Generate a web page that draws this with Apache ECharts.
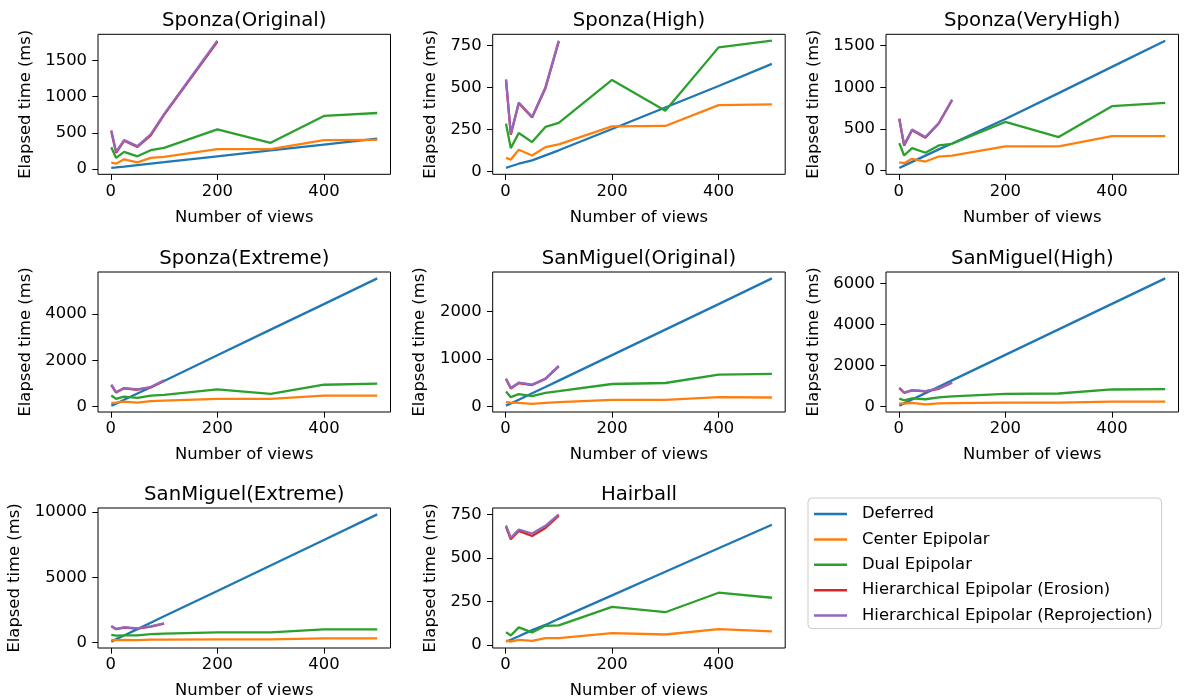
<!DOCTYPE html>
<html>
<head>
<meta charset="utf-8">
<script src="https://cdn.jsdelivr.net/npm/echarts@6/dist/echarts.min.js"></script>
<style>
  html, body { margin: 0; padding: 0; background: #fff; }
  #chart { width: 1190px; height: 700px; }
</style>
</head>
<body>
<div id="chart"></div>
<script>
// Number of views rendered per frame (shared x values of every panel)
const views = [1, 10, 25, 50, 75, 100, 200, 300, 400, 500];

const seriesNames = [
  'Deferred',
  'Center Epipolar',
  'Dual Epipolar',
  'Hierarchical Epipolar (Erosion)',
  'Hierarchical Epipolar (Reprojection)'
];

const panelTitles = [
  'Sponza(Original)', 'Sponza(High)', 'Sponza(VeryHigh)',
  'Sponza(Extreme)', 'SanMiguel(Original)', 'SanMiguel(High)',
  'SanMiguel(Extreme)', 'Hairball'
];

// Elapsed time (ms) per scene: [deferred, center, dual, erosion, reprojection]
const sponzaOriginal = [
  [15, 22, 34, 55, 75, 95, 176, 257, 338, 419],
  [88, 74, 135, 93, 153, 167, 274, 274, 399, 404],
  [300, 153, 237, 176, 260, 292, 548, 362, 734, 775],
  [520, 225, 390, 305, 465, 750, 1760],
  [535, 237, 399, 316, 478, 760, 1775]
];
const sponzaHigh = [
  [20, 30, 45, 65, 95, 125, 252, 380, 508, 640],
  [80, 70, 128, 94, 144, 160, 268, 270, 394, 398],
  [284, 138, 228, 174, 264, 288, 544, 360, 738, 778],
  [545, 218, 405, 320, 495, 772],
  [548, 224, 410, 324, 500, 778]
];
const sponzaVeryHigh = [
  [32, 60, 105, 180, 255, 325, 620, 930, 1245, 1560],
  [100, 89, 141, 109, 169, 181, 290, 290, 415, 415],
  [330, 181, 270, 214, 302, 322, 584, 403, 774, 814],
  [620, 300, 485, 395, 565, 845],
  [625, 310, 492, 403, 572, 854]
];
const sponzaExtreme = [
  [45, 130, 300, 570, 840, 1110, 2215, 3320, 4420, 5530],
  [160, 170, 218, 175, 240, 260, 335, 335, 480, 480],
  [480, 335, 436, 378, 480, 509, 742, 553, 946, 990],
  [930, 610, 790, 730, 830, 1120],
  [946, 626, 800, 742, 844, 1135]
];
const sanMiguelOriginal = [
  [20, 65, 145, 280, 410, 545, 1080, 1615, 2150, 2690],
  [92, 85, 78, 57, 80, 95, 141, 141, 198, 191],
  [318, 198, 262, 219, 290, 325, 474, 495, 672, 686],
  [580, 380, 495, 452, 580, 845],
  [587, 389, 502, 460, 587, 855]
];
const sanMiguelHigh = [
  [50, 160, 350, 660, 970, 1280, 2520, 3760, 5000, 6240],
  [164, 150, 180, 115, 160, 175, 197, 197, 246, 246],
  [393, 311, 400, 360, 450, 500, 623, 640, 836, 852],
  [905, 675, 790, 740, 870, 1165],
  [918, 688, 803, 754, 885, 1180]
];
const sanMiguelExtreme = [
  [80, 270, 550, 1040, 1530, 2020, 3960, 5910, 7860, 9820],
  [205, 190, 220, 200, 230, 240, 256, 256, 333, 333],
  [590, 538, 560, 564, 650, 700, 795, 795, 1025, 1025],
  [1260, 1030, 1160, 1080, 1235, 1465],
  [1282, 1050, 1180, 1100, 1256, 1487]
];
const hairball = [
  [20, 30, 50, 85, 115, 150, 285, 420, 555, 690],
  [25, 19, 29, 23, 39, 39, 68, 60, 91, 78],
  [74, 54, 101, 72, 110, 112, 219, 188, 300, 271],
  [678, 607, 655, 626, 672, 742],
  [686, 616, 663, 640, 684, 750]
];

// Tick labels
const xTicks = [0, 200, 400];
const yTicks = [
  [0, 500, 1000, 1500],
  [0, 250, 500, 750],
  [0, 500, 1000, 1500],
  [0, 2000, 4000],
  [0, 1000, 2000],
  [0, 2000, 4000, 6000],
  [0, 5000, 10000],
  [0, 250, 500, 750]
];

const panels = [sponzaOriginal, sponzaHigh, sponzaVeryHigh, sponzaExtreme,
  sanMiguelOriginal, sanMiguelHigh, sanMiguelExtreme, hairball];

const COLORS = ['#1f77b4', '#ff7f0e', '#2ca02c', '#d62728', '#9467bd'];
const FONT = 'DejaVu Sans';
const FS = 16.4;       // tick / axis label size
const TITLE_FS = 19.7; // subplot title size
const COL_LEFT = [98, 492.7, 886];
const ROW_TOP = [34.3, 272, 508];
const BOX_W = 292.5;
const BOX_H = 140;

// matplotlib-like 5% margins on both axes
const xLo = Math.min(...views), xHi = Math.max(...views);
const xPad = (xHi - xLo) * 0.05;

const grids = [], xAxes = [], yAxes = [], titles = [], series = [];

panels.forEach((panel, i) => {
  const col = i % 3, row = Math.floor(i / 3);
  const left = COL_LEFT[col], top = ROW_TOP[row];

  grids.push({
    left: left, top: top, width: BOX_W, height: BOX_H,
    show: true, borderColor: '#000', borderWidth: 1,
    backgroundColor: 'transparent'
  });

  let lo = Infinity, hi = -Infinity;
  panel.forEach(s => s.forEach(v => { lo = Math.min(lo, v); hi = Math.max(hi, v); }));
  const yPad = (hi - lo) * 0.05;

  const widest = Math.max(...yTicks[i].map(v => String(v).length));
  const labelW = widest * 0.636 * FS;

  xAxes.push({
    type: 'value', gridIndex: i, position: 'bottom',
    min: xLo - xPad, max: xHi + xPad,
    splitLine: { show: false },
    axisLine: { show: false, onZero: false },
    axisTick: { show: true, inside: false, length: 5.7, customValues: xTicks,
      lineStyle: { color: '#000', width: 1 } },
    axisLabel: { customValues: xTicks, margin: 9, color: '#000',
      fontFamily: FONT, fontSize: FS, formatter: v => String(v) },
    name: 'Number of views', nameLocation: 'middle', nameGap: 35,
    nameTextStyle: { color: '#000', fontFamily: FONT, fontSize: FS }
  });

  yAxes.push({
    type: 'value', gridIndex: i, position: 'left',
    min: lo - yPad, max: hi + yPad,
    splitLine: { show: false },
    axisLine: { show: false, onZero: false },
    axisTick: { show: true, inside: false, length: 5.7, customValues: yTicks[i],
      lineStyle: { color: '#000', width: 1 } },
    axisLabel: { customValues: yTicks[i], margin: 11, color: '#000',
      fontFamily: FONT, fontSize: FS, formatter: v => String(v) },
    name: 'Elapsed time (ms)', nameLocation: 'middle', nameRotate: 90,
    nameGap: labelW + 23,
    nameTextStyle: { color: '#000', fontFamily: FONT, fontSize: FS }
  });

  titles.push({
    text: panelTitles[i],
    left: left + BOX_W / 2, top: top - 23,
    textAlign: 'center', padding: 0,
    textStyle: { color: '#000', fontFamily: FONT, fontSize: TITLE_FS, fontWeight: 'normal' }
  });

  panel.forEach((vals, s) => {
    series.push({
      type: 'line', name: seriesNames[s],
      xAxisIndex: i, yAxisIndex: i,
      data: vals.map((v, k) => [views[k], v]),
      symbol: 'none', showSymbol: false,
      lineStyle: { color: COLORS[s], width: 2.3 },
      itemStyle: { color: COLORS[s] },
      z: 2 + s
    });
  });
});

const chart = echarts.init(document.getElementById('chart'), null, { renderer: 'canvas' });
chart.setOption({
  animation: false,
  backgroundColor: '#fff',
  color: COLORS,
  title: titles,
  grid: grids,
  xAxis: xAxes,
  yAxis: yAxes,
  legend: {
    data: seriesNames,
    orient: 'vertical',
    left: 808, top: 498,
    padding: [7, 9, 4, 6],
    itemGap: 7.4,
    icon: 'rect',
    itemWidth: 33, itemHeight: 2.5,
    borderColor: '#cccccc', borderWidth: 1, borderRadius: 4,
    backgroundColor: 'rgba(255,255,255,0.8)',
    selectedMode: false,
    textStyle: { color: '#000', fontFamily: FONT, fontSize: FS, lineHeight: 18,
      padding: [0, 0, 0, 10] }
  },
  series: series
});
</script>
</body>
</html>
